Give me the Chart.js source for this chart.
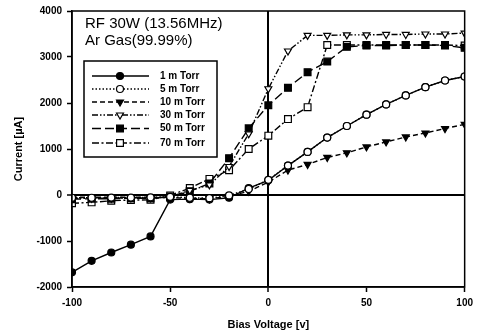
<!DOCTYPE html>
<html>
<head>
<meta charset="utf-8">
<script src="https://cdn.jsdelivr.net/npm/chart.js@4.4.1/dist/chart.umd.min.js"></script>
<style>
  html, body { margin: 0; padding: 0; background: #fff; }
  #wrap { width: 478px; height: 335px; }
</style>
</head>
<body>
<div id="wrap"><canvas id="chart"></canvas></div>
<script>
// bias voltage [V]
const voltages = [-100, -90, -80, -70, -60, -50, -40, -30, -20, -10, 0, 10, 20, 30, 40, 50, 60, 70, 80, 90, 100];

// current [uA] per pressure
const torr1  = [-1680, -1430, -1250, -1080, -900, -100, -90, -100, -60, 150, 320, 640, 937, 1249, 1500, 1746, 1970, 2164, 2345, 2489, 2576];
const torr5  = [-60, -60, -55, -55, -50, -40, -60, -70, -10, 130, 330, 640, 937, 1249, 1500, 1746, 1970, 2164, 2345, 2489, 2576];
const torr10 = [-50, -50, -50, -50, -50, -60, -70, -80, -30, 80, 280, 541, 664, 816, 916, 1046, 1154, 1262, 1348, 1444, 1537];
const torr30 = [-70, -70, -70, -60, -60, -40, 100, 220, 620, 1330, 2310, 3130, 3470, 3470, 3480, 3480, 3490, 3490, 3500, 3500, 3520];
const torr50 = [-90, -80, -80, -70, -70, -50, 80, 250, 800, 1450, 1950, 2330, 2670, 2900, 3220, 3250, 3250, 3260, 3260, 3250, 3200];
const torr70 = [-180, -160, -125, -110, -105, -10, 150, 350, 540, 1000, 1290, 1650, 1910, 3260, 3260, 3260, 3260, 3260, 3260, 3260, 3250];

const seriesNames = ['1 m Torr', '5 m Torr', '10 m Torr', '30 m Torr', '50 m Torr', '70 m Torr'];
const xTicks = [-100, -50, 0, 50, 100];
const yTicks = [-2000, -1000, 0, 1000, 2000, 3000, 4000];
const noteLines = ['RF 30W (13.56MHz)', 'Ar Gas(99.99%)'];

const styles = [
  { dash: [],                    point: 'circle',   fill: '#000', radius: 3.5, rot: 0 },
  { dash: [1.5, 2],              point: 'circle',   fill: '#fff', radius: 3.5, rot: 0 },
  { dash: [5, 3],                point: 'triangle', fill: '#000', radius: 4,   rot: 180 },
  { dash: [6, 2, 1.5, 2, 1.5, 2], point: 'triangle', fill: '#fff', radius: 4,   rot: 180 },
  { dash: [9, 4],                point: 'rect',     fill: '#000', radius: 4.8, rot: 0 },
  { dash: [7, 2.5, 2, 2.5],      point: 'rect',     fill: '#fff', radius: 4.8, rot: 0 }
];

const seriesData = [torr1, torr5, torr10, torr30, torr50, torr70];
const drawOrder  = [6, 1, 2, 3, 4, 5];

const datasets = seriesData.map((vals, i) => ({
  label: seriesNames[i],
  data: vals.map((v, j) => ({ x: voltages[j], y: v })),
  borderColor: '#000',
  borderWidth: 1.4,
  borderDash: styles[i].dash,
  pointStyle: styles[i].point,
  pointRadius: styles[i].radius,
  pointRotation: styles[i].rot,
  pointBackgroundColor: styles[i].fill,
  pointBorderColor: '#000',
  pointBorderWidth: 1.2,
  fill: false,
  tension: 0,
  order: drawOrder[i]
}));

function drawMarker(ctx, s, x, y) {
  const r = s.radius;
  ctx.beginPath();
  if (s.point === 'circle') {
    ctx.arc(x, y, r, 0, Math.PI * 2);
  } else if (s.point === 'rect') {
    const h = r * Math.SQRT1_2;
    ctx.rect(x - h, y - h, 2 * h, 2 * h);
  } else {
    let a = s.rot * Math.PI / 180;
    ctx.moveTo(x + Math.sin(a) * r, y - Math.cos(a) * r);
    for (let k = 0; k < 2; k++) {
      a += Math.PI * 2 / 3;
      ctx.lineTo(x + Math.sin(a) * r, y - Math.cos(a) * r);
    }
    ctx.closePath();
  }
  ctx.fillStyle = s.fill;
  ctx.fill();
  ctx.lineWidth = 1.2;
  ctx.setLineDash([]);
  ctx.strokeStyle = '#000';
  ctx.stroke();
}

const framePlugin = {
  id: 'frame',
  afterDraw(chart) {
    const ctx = chart.ctx;
    const a = chart.chartArea;
    ctx.save();
    ctx.strokeStyle = '#000';
    ctx.lineWidth = 1.5;
    ctx.setLineDash([]);
    ctx.strokeRect(a.left, a.top, a.right - a.left, a.bottom - a.top);

    // note text
    ctx.fillStyle = '#000';
    ctx.font = '15px "Liberation Sans", Arial, sans-serif';
    ctx.textBaseline = 'middle';
    ctx.textAlign = 'left';
    ctx.fillText(noteLines[0], 85, 24);
    ctx.fillText(noteLines[1], 85, 41);

    // legend box
    const bx = 84, by = 61, bw = 133, bh = 96;
    ctx.fillStyle = '#fff';
    ctx.fillRect(bx, by, bw, bh);
    ctx.lineWidth = 1.5;
    ctx.strokeRect(bx, by, bw, bh);
    const rowY = [76, 89, 102, 115, 128.5, 143];
    ctx.font = 'bold 10px "Liberation Sans", Arial, sans-serif';
    seriesNames.forEach((name, i) => {
      const y = rowY[i];
      ctx.beginPath();
      ctx.setLineDash(styles[i].dash);
      ctx.lineWidth = 1.4;
      ctx.strokeStyle = '#000';
      ctx.moveTo(92, y);
      ctx.lineTo(149, y);
      ctx.stroke();
      drawMarker(ctx, styles[i], 120, y);
      ctx.fillStyle = '#000';
      ctx.fillText(name, 160, y);
    });
    ctx.restore();
  }
};

const zeroGrid = {
  color: c => (c.tick && c.tick.value === 0) ? '#000' : 'rgba(0,0,0,0)',
  lineWidth: c => (c.tick && c.tick.value === 0) ? 2 : 1,
  tickColor: '#000',
  tickLength: 5,
  tickWidth: 1.5
};

const tickFont = { size: 10, weight: 'bold', family: '"Liberation Sans", Arial' };
const titleFont = { size: 11, weight: 'bold', family: '"Liberation Sans", Arial' };

new Chart(document.getElementById('chart'), {
  type: 'line',
  data: { datasets },
  options: {
    responsive: true,
    maintainAspectRatio: false,
    animation: false,
    devicePixelRatio: 1,
    layout: { padding: { top: 10, right: 11, left: 0, bottom: 0 } },
    plugins: { legend: { display: false }, tooltip: { enabled: false } },
    scales: {
      x: {
        type: 'linear',
        min: -100, max: 100,
        afterBuildTicks: s => { s.ticks = xTicks.map(v => ({ value: v })); },
        afterFit: s => { s.height = 48; },
        ticks: { color: '#000', font: tickFont, padding: 5, maxRotation: 0, callback: v => String(v) },
        grid: zeroGrid,
        border: { color: '#000', width: 1.5 },
        title: { display: true, text: 'Bias Voltage [v]', color: '#000', font: titleFont, padding: { top: 0, bottom: 3 } }
      },
      y: {
        min: -2000, max: 4000,
        afterBuildTicks: s => { s.ticks = yTicks.map(v => ({ value: v })); },
        afterFit: s => { s.width = 72; },
        ticks: { color: '#000', font: tickFont, padding: 5, callback: v => String(v) },
        grid: zeroGrid,
        border: { color: '#000', width: 1.5 },
        title: { display: true, text: 'Current [\u00b5A]', color: '#000', font: titleFont, padding: { top: 12, bottom: 0 } }
      }
    }
  },
  plugins: [framePlugin]
});
</script>
</body>
</html>
